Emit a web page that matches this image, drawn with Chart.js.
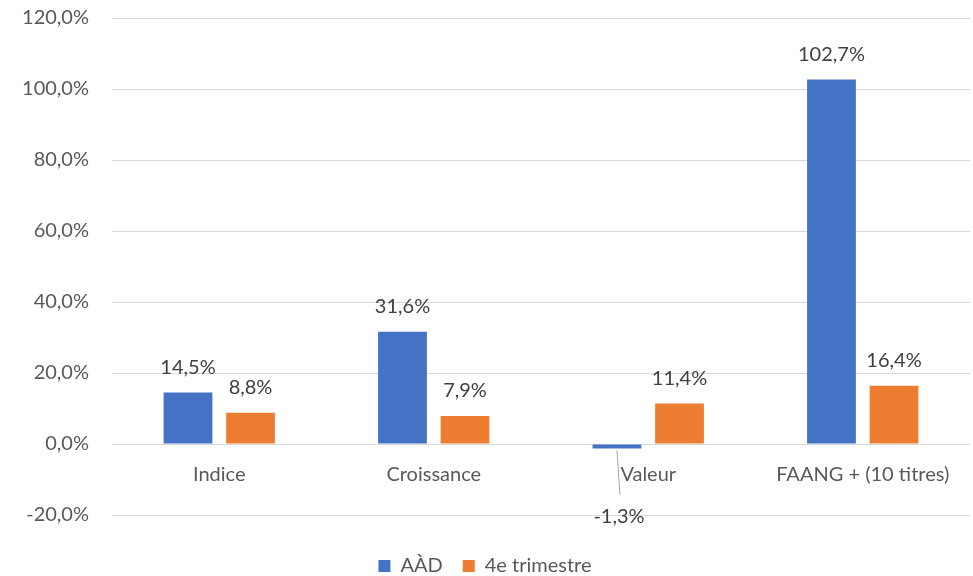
<!DOCTYPE html>
<html>
<head>
<meta charset="utf-8">
<script src="https://cdn.jsdelivr.net/npm/chart.js@4/dist/chart.umd.min.js"></script>
<style>
  html, body { margin: 0; padding: 0; background: #fff; }
  #wrap { width: 973px; height: 576px; }
</style>
</head>
<body>
<div id="wrap"><canvas id="c" width="973" height="576"></canvas></div>
<script>
const categories = ['Indice', 'Croissance', 'Valeur', 'FAANG + (10 titres)'];
const seriesNames = ['AÀD', '4e trimestre'];
const ytdValues = [14.5, 31.6, -1.3, 102.7];
const q4Values = [8.8, 7.9, 11.4, 16.4];
const yMin = -20, yMax = 120, yStep = 20;

const FONT = 'Lato, "Noto Sans", sans-serif';
const fmt = v => v.toFixed(1).replace('.', ',') + '%';

// value labels above each bar (below with a leader line for negatives),
// and category names drawn under the zero line like Excel does
const valueLabels = {
  id: 'valueLabels',
  afterDatasetsDraw(chart) {
    const ctx = chart.ctx;
    const xs = chart.scales.x, ys = chart.scales.y;
    const zero = ys.getPixelForValue(0);
    ctx.save();
    ctx.font = '20px ' + FONT;
    ctx.textAlign = 'center';
    ctx.textBaseline = 'middle';
    ctx.fillStyle = '#595959';
    categories.forEach((c, i) => ctx.fillText(c, xs.getPixelForValue(i), zero + 31));
    ctx.fillStyle = '#404040';
    chart.data.datasets.forEach((ds, i) => {
      chart.getDatasetMeta(i).data.forEach((bar, j) => {
        const v = ds.data[j];
        if (v >= 0) {
          ctx.fillText(fmt(v), bar.x, bar.y - 25);
        } else {
          ctx.strokeStyle = '#a6a6a6';
          ctx.lineWidth = 1;
          ctx.beginPath();
          ctx.moveTo(bar.x, bar.y + 2);
          ctx.lineTo(bar.x + 3, bar.y + 46);
          ctx.stroke();
          ctx.fillText(fmt(v), bar.x + 2, bar.y + 68);
        }
      });
    });
    ctx.restore();
  }
};

new Chart(document.getElementById('c'), {
  type: 'bar',
  data: {
    labels: categories,
    datasets: [
      { label: seriesNames[0], data: ytdValues, backgroundColor: '#4472C4' },
      { label: seriesNames[1], data: q4Values, backgroundColor: '#ED7D31' }
    ]
  },
  options: {
    responsive: false,
    animation: false,
    devicePixelRatio: 1,
    layout: { padding: { top: 18, right: 3, left: 0, bottom: -10 } },
    datasets: { bar: { categoryPercentage: 0.583, barPercentage: 0.78 } },
    scales: {
      x: {
        display: false
      },
      y: {
        min: yMin, max: yMax,
        afterFit(scale) {
          scale.width = 112;
          // tick padding is only meant as horizontal gap here
          scale.paddingTop = 0;
          scale.paddingBottom = 0;
        },
        grid: { color: '#d9d9d9', lineWidth: 1, drawTicks: false },
        border: { display: false },
        ticks: {
          stepSize: yStep,
          color: '#595959',
          font: { size: 20, family: FONT },
          padding: 23,
          callback: v => fmt(v)
        }
      }
    },
    plugins: {
      legend: {
        position: 'bottom',
        // empty title only used as a spacer above the legend row
        title: { display: true, text: '', font: { size: 10, lineHeight: 1 }, padding: { top: 11, bottom: 0 } },
        labels: {
          boxWidth: 12, boxHeight: 12, padding: 20,
          color: '#595959',
          font: { size: 20, family: FONT }
        }
      },
      tooltip: { enabled: false }
    }
  },
  plugins: [valueLabels]
});
</script>
</body>
</html>
